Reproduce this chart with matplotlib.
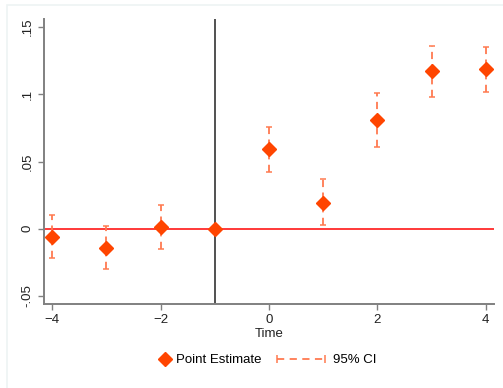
import numpy as np
import matplotlib.pyplot as plt
from matplotlib.lines import Line2D
from matplotlib.legend_handler import HandlerLine2D
from matplotlib.patches import Rectangle

plt.rcParams['font.family'] = ['Liberation Sans', 'DejaVu Sans']

# event-time estimates
time = [-4, -3, -2, -1, 0, 1, 2, 3, 4]
est = [-0.006, -0.014, 0.0015, 0.0, 0.059, 0.019, 0.081, 0.117, 0.119]
ci_lo = [-0.022, -0.030, -0.015, 0.0, 0.042, 0.003, 0.061, 0.098, 0.102]
ci_hi = [0.010, 0.002, 0.018, 0.0, 0.076, 0.037, 0.101, 0.136, 0.135]
xticks = [-4, -2, 0, 2, 4]
yticks = [-0.05, 0, 0.05, 0.1, 0.15]
ylabels = ['-.05', '0', '.05', '.1', '.15']

pt_col = '#FF4500'
ci_col = '#FF7A50'

fig = plt.figure(figsize=(5.03, 3.88), dpi=100)
fig.patches.append(Rectangle((7/503, -0.1), 1.2, (388-5)/388 + 0.1, transform=fig.transFigure,
                             fill=False, edgecolor='#eef3f3', linewidth=1.2))
ax = fig.add_axes([44/503, 84/388, 450/503, 285/388])

t = np.array(time)
e = np.array(est)
lo = np.array(ci_lo)
hi = np.array(ci_hi)
has_ci = hi > lo

ax.axhline(0, color='#FF2A2A', lw=1.3, zorder=1)
ax.axvline(-1, color='#222222', lw=1.1, zorder=1)

eb = ax.errorbar(t[has_ci], e[has_ci], yerr=[e[has_ci] - lo[has_ci], hi[has_ci] - e[has_ci]],
                 fmt='none', ecolor=ci_col, elinewidth=1.3, capsize=2.3, capthick=1.1, zorder=2)
eb[2][0].set_linestyle((0, (4, 3)))
ax.plot(t, e, linestyle='none', marker='D', markersize=7, color=pt_col, zorder=3)

ax.set_xlim(-4.15, 4.15)
ax.set_ylim(-0.056, 0.156)
ax.set_xticks(xticks)
ax.set_yticks(yticks)
ax.set_yticklabels(ylabels, rotation=90, va='center')
ax.tick_params(colors='#222222', labelsize=9.5, length=4, width=1)
ax.tick_params(axis='both', color='#808080')
for s in ['top', 'right']:
    ax.spines[s].set_visible(False)
for s in ['left', 'bottom']:
    ax.spines[s].set_color('#808080')
    ax.spines[s].set_linewidth(1.4)
ax.set_xlabel('Time', fontsize=9.5, labelpad=1, color='#222222')

h_pt = Line2D([], [], linestyle='none', marker='D', markersize=7, color=pt_col)
h_ci = Line2D([], [], linestyle=(0, (4, 3)), lw=1.3, marker='|', markersize=6,
              markeredgewidth=1.1, color=ci_col)
leg1 = fig.legend([h_pt], ['Point Estimate'], loc='center left', bbox_to_anchor=(153/503, 28/388),
                  frameon=False, fontsize=9.5, handlelength=1, handletextpad=0.35,
                  borderaxespad=0, numpoints=1)
leg2 = fig.legend([h_ci], ['95% CI'], loc='center left', bbox_to_anchor=(272/503, 28/388),
                  frameon=False, fontsize=9.5, handlelength=3.64, handletextpad=0.6,
                  borderaxespad=0,
                  handler_map={h_ci: HandlerLine2D(numpoints=2, marker_pad=0)})

fig.savefig('out.png', dpi=100)
